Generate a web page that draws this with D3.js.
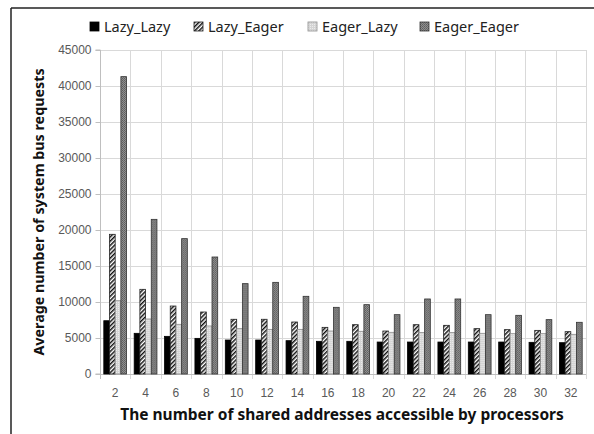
<!DOCTYPE html>
<html>
<head>
<meta charset="utf-8">
<script src="https://cdn.jsdelivr.net/npm/d3@7"></script>
<style>
  html, body { margin: 0; padding: 0; background: #fff; }
  svg { display: block; font-family: "Noto Sans", "Open Sans", sans-serif; }
</style>
</head>
<body>
<svg id="chart" width="594" height="434"></svg>
<script>
// Shared-address counts on the x axis
const categories = ["2", "4", "6", "8", "10", "12", "14", "16", "18", "20", "22", "24", "26", "28", "30", "32"];

// Average number of system bus requests per policy combination
const lazyLazy   = [7400, 5650, 5230, 4950, 4720, 4720, 4630, 4540, 4540, 4440, 4440, 4440, 4440, 4440, 4400, 4350];
const lazyEager  = [19400, 11760, 9440, 8610, 7600, 7600, 7220, 6480, 6850, 5970, 6850, 6760, 6300, 6160, 6060, 5880];
const eagerLazy  = [10180, 7640, 6900, 6670, 6300, 6200, 6200, 5970, 5930, 5790, 5750, 5750, 5650, 5600, 5600, 5510];
const eagerEager = [41300, 21480, 18800, 16250, 12550, 12730, 10790, 9260, 9630, 8240, 10420, 10420, 8240, 8150, 7550, 7180];

const seriesNames = ["Lazy_Lazy", "Lazy_Eager", "Eager_Lazy", "Eager_Eager"];
const yTicks = [0, 5000, 10000, 15000, 20000, 25000, 30000, 35000, 40000, 45000];

const seriesValues = [lazyLazy, lazyEager, eagerLazy, eagerEager];

const svg = d3.select("#chart");
const margin = { left: 100, right: 8, top: 50, bottom: 60 };
const W = 594, H = 434;
const plotRight = 586, plotBottom = 374;

// Fill patterns
const defs = svg.append("defs");

const hatch = defs.append("pattern")
  .attr("id", "hatch").attr("patternUnits", "userSpaceOnUse")
  .attr("width", 3).attr("height", 3)
  .attr("patternTransform", "rotate(45)");
hatch.append("rect").attr("width", 3).attr("height", 3).attr("fill", "#fff");
hatch.append("rect").attr("width", 1.5).attr("height", 3).attr("fill", "#111");

const dots = defs.append("pattern")
  .attr("id", "dots").attr("patternUnits", "userSpaceOnUse")
  .attr("width", 2).attr("height", 2);
dots.append("rect").attr("width", 2).attr("height", 2).attr("fill", "#d4d4d4");
dots.append("rect").attr("width", 1).attr("height", 1).attr("fill", "#ececec");

const checker = defs.append("pattern")
  .attr("id", "checker").attr("patternUnits", "userSpaceOnUse")
  .attr("width", 2).attr("height", 2);
checker.append("rect").attr("width", 2).attr("height", 2).attr("fill", "#8f8f8f");
checker.append("rect").attr("width", 1).attr("height", 1).attr("fill", "#5e5e5e");
checker.append("rect").attr("x", 1).attr("y", 1).attr("width", 1).attr("height", 1).attr("fill", "#6a6a6a");

const fills = ["#000", "url(#hatch)", "url(#dots)", "url(#checker)"];
const strokes = ["#000", "#222", "#8c8c8c", "#333"];

// Outer frame (top and left edges)
svg.append("line").attr("x1", 11).attr("x2", W).attr("y1", 8).attr("y2", 8)
  .attr("stroke", "#222").attr("stroke-width", 1.5);
svg.append("line").attr("x1", 11).attr("x2", 11).attr("y1", 8).attr("y2", H)
  .attr("stroke", "#222").attr("stroke-width", 1.5);

// Scales
const x = d3.scaleBand().domain(categories).range([margin.left, plotRight]).paddingInner(0).paddingOuter(0);
const y = d3.scaleLinear().domain([0, 45000]).range([plotBottom, margin.top]);
const inner = d3.scaleBand().domain(seriesNames).range([3.8, x.bandwidth() - 3.8]).padding(0);

// Horizontal gridlines
svg.append("g").selectAll("line").data(yTicks.slice(1)).join("line")
  .attr("x1", margin.left).attr("x2", plotRight)
  .attr("y1", d => Math.round(y(d)) + 0.5).attr("y2", d => Math.round(y(d)) + 0.5)
  .attr("stroke", "#d9d9d9").attr("stroke-width", 1);

// Vertical gridlines at category boundaries
const bounds = categories.map(c => x(c)).concat([plotRight]);
svg.append("g").selectAll("line").data(bounds.slice(1)).join("line")
  .attr("x1", d => Math.round(d) + 0.5).attr("x2", d => Math.round(d) + 0.5)
  .attr("y1", margin.top).attr("y2", plotBottom + 5)
  .attr("stroke", "#d9d9d9").attr("stroke-width", 1);

// Y axis
const yAxis = svg.append("g")
  .attr("transform", `translate(${margin.left + 0.5},0)`)
  .call(d3.axisLeft(y).tickValues(yTicks).tickSize(5).tickPadding(4).tickFormat(d3.format("d")));
yAxis.select(".domain").attr("stroke", "#bfbfbf").attr("d", `M-5,${margin.top}H0V${plotBottom}H-5`);
yAxis.selectAll(".tick line").attr("stroke", "#bfbfbf");
yAxis.selectAll(".tick text").attr("fill", "#595959").style("font-size", "12px");

// X axis
const xAxis = svg.append("g")
  .attr("transform", `translate(0,${plotBottom + 0.5})`)
  .call(d3.axisBottom(x).tickSize(0).tickPadding(14));
xAxis.select(".domain").attr("stroke", "#bfbfbf").attr("d", `M${margin.left},0H${plotRight}`);
xAxis.selectAll(".tick text").attr("fill", "#595959").style("font-size", "12px");
svg.append("line").attr("x1", margin.left + 0.5).attr("x2", margin.left + 0.5)
  .attr("y1", plotBottom).attr("y2", plotBottom + 5).attr("stroke", "#bfbfbf");

// Bars
const groups = svg.append("g").selectAll("g").data(categories).join("g")
  .attr("transform", d => `translate(${x(d)},0)`);
groups.selectAll("rect").data((d, i) => seriesNames.map((s, k) => ({ s, k, v: seriesValues[k][i] })))
  .join("rect")
  .attr("x", d => inner(d.s))
  .attr("width", inner.bandwidth())
  .attr("y", d => y(d.v))
  .attr("height", d => plotBottom - y(d.v))
  .attr("fill", d => fills[d.k])
  .attr("stroke", d => strokes[d.k])
  .attr("stroke-width", 0.8);

// Legend
const legendX = [90, 194, 308, 420];
const legend = svg.append("g").selectAll("g").data(seriesNames).join("g")
  .attr("transform", (d, i) => `translate(${legendX[i]},22)`);
legend.append("rect").attr("width", 9).attr("height", 9)
  .attr("fill", (d, i) => fills[i]).attr("stroke", (d, i) => strokes[i]).attr("stroke-width", 0.8);
legend.append("text").attr("x", 14).attr("y", 9.5)
  .style("font-size", "14.5px").attr("fill", "#222").text(d => d);

// Axis titles
svg.append("text")
  .attr("transform", "translate(44,212) rotate(-90)")
  .attr("text-anchor", "middle")
  .style("font-size", "14.3px").style("font-weight", "bold").attr("fill", "#111")
  .text("Average number of system bus requests");
svg.append("text")
  .attr("x", 342).attr("y", 420)
  .attr("text-anchor", "middle")
  .style("font-size", "15.5px").style("font-weight", "bold").attr("fill", "#111")
  .text("The number of shared addresses accessible by processors");
</script>
</body>
</html>
